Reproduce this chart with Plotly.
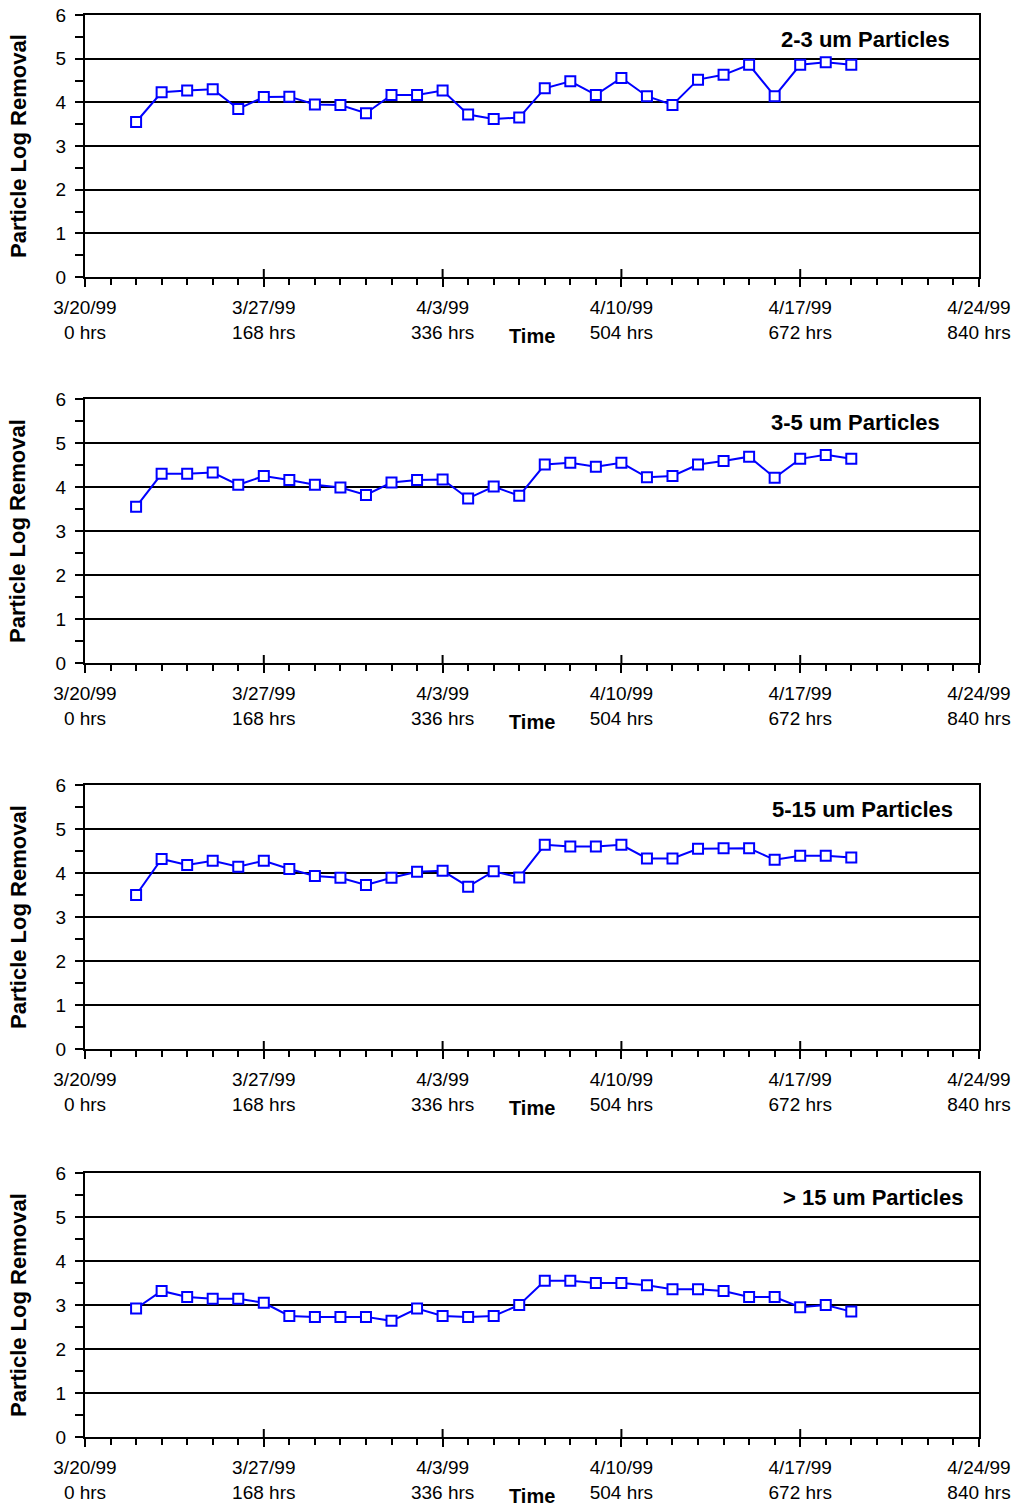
import plotly.graph_objects as go

# ---- data ----
hours = [48, 72, 96, 120, 144, 168, 192, 216, 240, 264, 288, 312, 336, 360, 384,
         408, 432, 456, 480, 504, 528, 552, 576, 600, 624, 648, 672, 696, 720]

lr_2_3 = [3.55, 4.23, 4.27, 4.30, 3.85, 4.12, 4.13, 3.95, 3.94, 3.75, 4.17, 4.17, 4.27, 3.72, 3.62,
          3.65, 4.32, 4.48, 4.17, 4.56, 4.14, 3.94, 4.52, 4.63, 4.86, 4.14, 4.86, 4.92, 4.86]
lr_3_5 = [3.55, 4.30, 4.30, 4.33, 4.05, 4.25, 4.16, 4.05, 3.99, 3.82, 4.10, 4.16, 4.17, 3.74, 4.01,
          3.80, 4.51, 4.55, 4.46, 4.55, 4.22, 4.25, 4.51, 4.59, 4.69, 4.21, 4.64, 4.73, 4.64]
lr_5_15 = [3.50, 4.32, 4.18, 4.28, 4.14, 4.28, 4.09, 3.93, 3.89, 3.73, 3.89, 4.03, 4.05, 3.69, 4.04,
           3.90, 4.64, 4.60, 4.60, 4.64, 4.33, 4.33, 4.55, 4.56, 4.56, 4.30, 4.39, 4.39, 4.35]
lr_gt15 = [2.92, 3.32, 3.18, 3.14, 3.14, 3.05, 2.75, 2.73, 2.73, 2.73, 2.64, 2.92, 2.75, 2.73, 2.75,
           3.00, 3.55, 3.55, 3.50, 3.50, 3.45, 3.36, 3.36, 3.32, 3.18, 3.18, 2.95, 3.00, 2.85]

series = [lr_2_3, lr_3_5, lr_5_15, lr_gt15]
panel_labels = ["2-3 um Particles", "3-5 um Particles", "5-15 um Particles", "> 15 um Particles"]

x_major = [0, 168, 336, 504, 672, 840]
x_major_text = ["3/20/99<br>0 hrs", "3/27/99<br>168 hrs", "4/3/99<br>336 hrs",
                "4/10/99<br>504 hrs", "4/17/99<br>672 hrs", "4/24/99<br>840 hrs"]
y_ticks = [0, 1, 2, 3, 4, 5, 6]

# ---- layout geometry ----
W, H = 1022, 1509
x_dom = [85 / W, 979 / W]
panel_px = [(15, 277), (399, 663), (785, 1049), (1173, 1437)]
label_right = [0.9698, 0.9586, 0.9732, 0.9843]

FONT = "Liberation Sans, Arial, sans-serif"
BLUE = "#0000FF"

fig = go.Figure()
layout = dict(
    width=W, height=H, autosize=False,
    margin=dict(l=0, r=0, t=0, b=0, autoexpand=False),
    paper_bgcolor="white", plot_bgcolor="white",
    showlegend=False,
    font=dict(family=FONT, size=19, color="black"),
)
annotations = []
shapes = []

for i, (vals, lab) in enumerate(zip(series, panel_labels)):
    k = i + 1
    xa = "x" if k == 1 else f"x{k}"
    ya = "y" if k == 1 else f"y{k}"
    top, bot = panel_px[i]
    fig.add_trace(go.Scatter(
        x=hours, y=vals, xaxis=xa, yaxis=ya, mode="lines+markers",
        line=dict(color=BLUE, width=2),
        marker=dict(symbol="square", size=10, color="white",
                    line=dict(color=BLUE, width=2)),
        cliponaxis=False,
    ))
    layout[f"xaxis{k if k > 1 else ''}"] = dict(
        domain=x_dom, anchor=ya, range=[0, 840], automargin=False,
        tickmode="array", tickvals=x_major, ticktext=x_major_text,
        ticks="outside", ticklen=8, tickwidth=2, tickcolor="black",
        minor=dict(ticks="outside", ticklen=6, tickwidth=2, tickcolor="black",
                   dtick=24, tick0=0, showgrid=False),
        showline=True, linewidth=2, linecolor="black", mirror=True,
        showgrid=False, zeroline=False,
        tickfont=dict(family=FONT, size=19, color="black"),
        ticklabelstandoff=4,
    )
    layout[f"yaxis{k if k > 1 else ''}"] = dict(
        domain=[1 - bot / H, 1 - top / H], anchor=xa, range=[0, 6], automargin=False,
        tickmode="array", tickvals=y_ticks,
        ticks="outside", ticklen=8, tickwidth=2, tickcolor="black",
        minor=dict(ticks="outside", ticklen=8, tickwidth=2, tickcolor="black",
                   dtick=0.5, tick0=0, showgrid=False),
        showline=True, linewidth=2, linecolor="black", mirror=True,
        showgrid=True, gridcolor="black", gridwidth=2, zeroline=False,
        tickfont=dict(family=FONT, size=19, color="black"),
        ticklabelstandoff=5,
    )
    # inner half of the crossing major x ticks
    for xv in x_major[1:-1]:
        shapes.append(dict(type="line", xref=xa, yref=ya, x0=xv, x1=xv,
                           ysizemode="pixel", yanchor=0, y0=0, y1=8,
                           line=dict(color="black", width=2)))
    annotations.append(dict(
        text=f"<b>{lab}</b>", xref=f"{xa} domain", yref=f"{ya} domain",
        x=label_right[i], y=1, yshift=-24, xanchor="right", yanchor="middle",
        showarrow=False, font=dict(family=FONT, size=22, color="black"),
    ))
    annotations.append(dict(
        text="<b>Time</b>", xref=f"{xa} domain", yref=f"{ya} domain",
        x=0.5, y=0, yshift=-59, xanchor="center", yanchor="middle",
        showarrow=False, font=dict(family=FONT, size=20, color="black"),
    ))
    annotations.append(dict(
        text="<b>Particle Log Removal</b>", xref="paper", yref=f"{ya} domain",
        x=18 / W, y=0.5, xanchor="center", yanchor="middle", textangle=-90,
        showarrow=False, font=dict(family=FONT, size=22, color="black"),
    ))

layout["annotations"] = annotations
layout["shapes"] = shapes
fig.update_layout(**layout)
fig.write_html("out.html")
